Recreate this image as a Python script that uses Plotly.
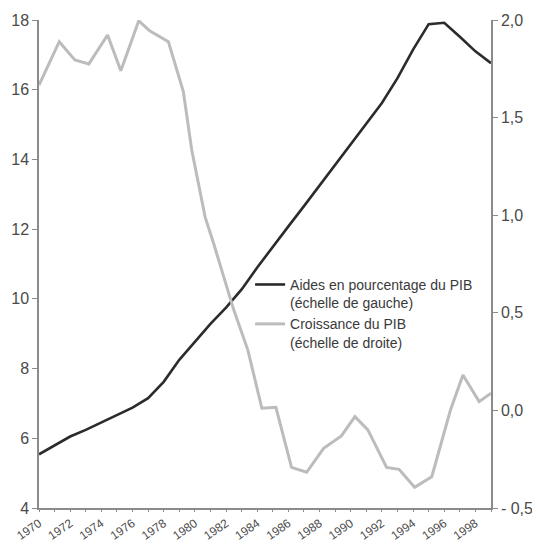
import plotly.graph_objects as go

years = list(range(1970, 2000))
aid_pct_gdp = [5.54, 5.79, 6.05, 6.24, 6.45, 6.65, 6.88, 7.15, 7.62, 8.25,
               8.77, 9.28, 9.75, 10.27, 10.9, 11.5, 12.08, 12.66, 13.25, 13.84,
               14.43, 15.02, 15.62, 16.33, 17.15, 17.88, 17.92, 17.52, 17.1, 16.76]

growth_x = [1970.0, 1971.3, 1972.3, 1973.2, 1974.4, 1975.25, 1976.4, 1977.1, 1978.3,
            1979.26, 1979.8, 1980.33, 1980.66, 1981.2, 1982.5, 1983.4, 1984.3, 1985.2,
            1986.2, 1987.17, 1988.26, 1989.4, 1990.27, 1991.1, 1992.3, 1993.1, 1994.1,
            1995.2, 1995.7, 1996.4, 1997.2, 1998.24, 1999.0]
growth_gdp = [1.667, 1.889, 1.795, 1.775, 1.923, 1.74, 1.996, 1.945, 1.889,
              1.633, 1.334, 1.129, 0.99, 0.856, 0.514, 0.309, 0.011, 0.016,
              -0.292, -0.317, -0.194, -0.131, -0.032, -0.1, -0.292, -0.302, -0.394,
              -0.34, -0.2, 0.002, 0.181, 0.045, 0.088]

left_ticks = [4, 6, 8, 10, 12, 14, 16, 18]
right_ticks = [-0.5, 0.0, 0.5, 1.0, 1.5, 2.0]
right_labels = ["- 0,5", "0,0", "0,5", "1,0", "1,5", "2,0"]
x_labels = [str(y) if y % 2 == 0 else "" for y in years]

name_aid = "Aides en pourcentage du PIB<br>(échelle de gauche)"
name_growth = "Croissance du PIB<br>(échelle de droite)"

FONT = "Liberation Sans, Arial, sans-serif"
AXC = "#8a8a8a"
TXC = "#4a4a4a"

fig = go.Figure()
fig.add_trace(go.Scatter(x=years, y=aid_pct_gdp, mode="lines", name=name_aid,
                         line=dict(color="#2b2b2b", width=2.6), yaxis="y"))
fig.add_trace(go.Scatter(x=growth_x, y=growth_gdp, mode="lines", name=name_growth,
                         line=dict(color="#bcbcbc", width=3), yaxis="y2"))

# the page body has an 8px margin, so the figure is sized to fit the window
fig.update_layout(
    width=532, height=536,
    margin=dict(l=31, r=49, t=12, b=36),
    paper_bgcolor="white", plot_bgcolor="white",
    font=dict(family=FONT, color=TXC),
    showlegend=True,
    legend=dict(x=0.467, y=0.49, xanchor="left", yanchor="top",
                bgcolor="rgba(0,0,0,0)", font=dict(size=14, color="#3a3a3a"),
                valign="top", itemwidth=30, tracegroupgap=4),
    xaxis=dict(range=[1970, 1999], tickmode="array", tickvals=years, ticktext=x_labels,
               tickangle=-35, tickfont=dict(size=12, color=TXC), automargin=False,
               showgrid=False, zeroline=False, showline=True, linecolor=AXC, linewidth=1.5,
               ticks="outside", ticklen=2, tickcolor=AXC),
    yaxis=dict(range=[4, 18], tickmode="array", tickvals=left_ticks,
               tickfont=dict(size=16, color=TXC), automargin=False,
               showgrid=False, zeroline=False, showline=True, linecolor=AXC, linewidth=1.5,
               ticks="outside", ticklen=5, tickcolor=AXC),
    yaxis2=dict(range=[-0.5, 2.0], overlaying="y", side="right", tickmode="array",
                tickvals=right_ticks, ticktext=right_labels,
                tickfont=dict(size=16, color=TXC), automargin=False,
                showgrid=False, zeroline=False, showline=True, linecolor=AXC, linewidth=1.5,
                ticks="outside", ticklen=5, tickcolor=AXC),
)

fig.write_html("out.html")
